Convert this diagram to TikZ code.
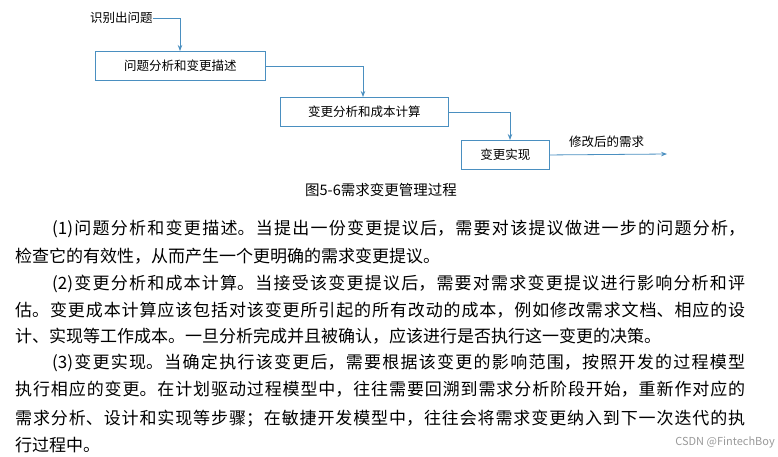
\documentclass[tikz,border=0pt]{standalone}
\usepackage{fontspec}
\setmainfont{Noto Sans CJK SC}
\newfontfamily\cjk{Noto Sans CJK SC}
\XeTeXlinebreaklocale "zh"
\XeTeXlinebreakskip=0pt plus 2pt
\usetikzlibrary{arrows.meta}
\definecolor{bx}{HTML}{4A8FC0}
\definecolor{ar}{HTML}{4A8FC0}
\tikzset{
  box/.style={draw=bx,line width=0.9pt,minimum height=29pt,font=\fontsize{12.5}{14}\selectfont,inner sep=0pt},
  con/.style={draw=ar,line width=0.8pt,-{Stealth[length=6pt,width=4.5pt]}},
  jl/.style={anchor=north west,inner sep=0pt,align=justify,font=\fontsize{17}{20}\selectfont},
}
\newcommand{\jline}[1]{{\parfillskip=0pt #1\par}}
\begin{document}
\begin{tikzpicture}[x=1pt,y=-1pt]
\useasboundingbox (0,0) rectangle (778,456);
\node[anchor=west,font=\fontsize{12.5}{14}\selectfont,inner sep=0pt] (start) at (90,18) {识别出问题};
\node[box,minimum width=170pt,anchor=north west] (b1) at (95,51) {问题分析和变更描述};
\node[box,minimum width=168pt,anchor=north west] (b2) at (280,97) {变更分析和成本计算};
\node[box,minimum width=88pt,anchor=north west] (b3) at (461,140) {变更实现};
\coordinate (end) at (667,154);
\node[anchor=south west,font=\fontsize{12.5}{14}\selectfont,inner sep=0pt] (lab) at (569,148) {修改后的需求};
\draw[con] (start.east) -| (b1.north -| 180,0);
\draw[con] (b1.east) -| (b2.north -| 363,0);
\draw[con] (b2.east) -| (b3.north -| 510,0);
\draw[con] (b3.east) -- (end);
\node[font=\fontsize{14.5}{16}\selectfont,inner sep=0pt] (cap) at (381,190) {图5-6需求变更管理过程};
\node[jl,text width=693pt] (l1) at (52,220) {\jline{(1)问题分析和变更描述。当提出一份变更提议后，需要对该提议做进一步的问题分析，}};
\node[jl,text width=730pt] (l2) at (15,248) {检查它的有效性，从而产生一个更明确的需求变更提议。};
\node[jl,text width=693pt] (l3) at (52,275) {\jline{(2)变更分析和成本计算。当接受该变更提议后，需要对需求变更提议进行影响分析和评}};
\node[jl,text width=730pt] (l4) at (15,302) {\jline{估。变更成本计算应该包括对该变更所引起的所有改动的成本，例如修改需求文档、相应的设}};
\node[jl,text width=730pt] (l5) at (15,328) {计、实现等工作成本。一旦分析完成并且被确认，应该进行是否执行这一变更的决策。};
\node[jl,text width=693pt] (l6) at (52,354) {\jline{(3)变更实现。当确定执行该变更后，需要根据该变更的影响范围，按照开发的过程模型}};
\node[jl,text width=730pt] (l7) at (15,381) {\jline{执行相应的变更。在计划驱动过程模型中，往往需要回溯到需求分析阶段开始，重新作对应的}};
\node[jl,text width=730pt] (l8) at (15,410) {\jline{需求分析、设计和实现等步骤；在敏捷开发模型中，往往会将需求变更纳入到下一次迭代的执}};
\node[jl,text width=730pt] (l9) at (15,437) {行过程中。};
\node[anchor=east,text=black!40,font=\fontsize{11}{12}\selectfont,inner sep=0pt] (wm) at (775,442) {CSDN @FintechBoy};
\end{tikzpicture}
\end{document}
